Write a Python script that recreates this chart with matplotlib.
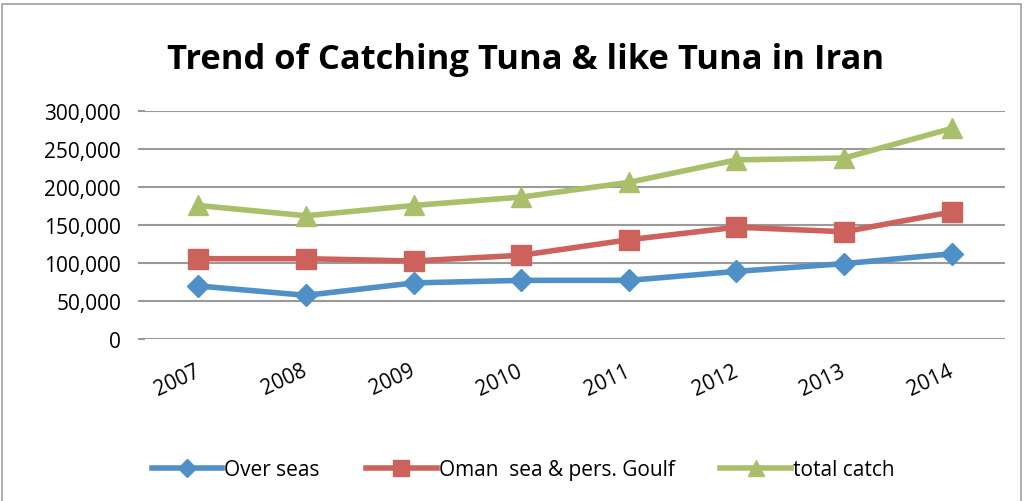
import matplotlib.pyplot as plt
from matplotlib.patches import Rectangle
from matplotlib.ticker import FuncFormatter

years = ['2007', '2008', '2009', '2010', '2011', '2012', '2013', '2014']
over_seas = [69600, 57300, 73600, 77000, 77000, 88800, 99000, 112000]
oman_gulf = [105500, 105500, 102500, 110000, 130500, 147000, 141000, 167000]
total_catch = [175600, 162000, 175600, 186600, 206000, 235600, 238000, 277000]

plt.rcParams['font.family'] = ['Open Sans', 'DejaVu Sans']

fig = plt.figure(figsize=(10.26, 5.02), dpi=100)
ax = fig.add_axes([0.141, 0.323, 0.839, 0.454])

x = range(len(years))
ax.plot(x, over_seas, color='#4f91c7', lw=4, marker='D', ms=11, label='Over seas')
ax.plot(x, oman_gulf, color='#cc625b', lw=4, marker='s', ms=14, label='Oman  sea & pers. Goulf')
ax.plot(x, total_catch, color='#a9bf6a', lw=4, marker='^', ms=15, label='total catch')

ax.set_xlim(-0.5, len(years) - 0.5)
ax.set_ylim(0, 300000)
ax.set_yticks(range(0, 300001, 50000))
ax.yaxis.set_major_formatter(FuncFormatter(lambda v, p: f'{int(v):,}'))
ax.set_xticks(list(x))
ax.set_xticklabels(years, rotation=25, ha='right', va='center', rotation_mode='anchor')
ax.tick_params(axis='x', length=0, labelsize=15, pad=22)
ax.tick_params(axis='y', length=5, width=1.5, color='#9a9a9a', labelsize=15, pad=12)
ax.grid(axis='y', color='#9a9a9a', lw=1.5)
ax.set_axisbelow(True)
for s in ax.spines.values():
    s.set_visible(False)

fig.text(0.512, 0.88, 'Trend of Catching Tuna & like Tuna in Iran',
         ha='center', va='center', fontsize=24.8, fontweight='bold')

fig.legend(loc='center', bbox_to_anchor=(0.51, 0.063), ncol=3, frameon=False,
           fontsize=15, handlelength=3.4, columnspacing=2.2, handletextpad=0.1,
           markerscale=0.8)

fig.add_artist(Rectangle((0.002, -0.05), 0.993, 1.04, transform=fig.transFigure,
                         fill=False, edgecolor='#a0a0a0', lw=1.2))

fig.savefig('out.png', dpi=100)
